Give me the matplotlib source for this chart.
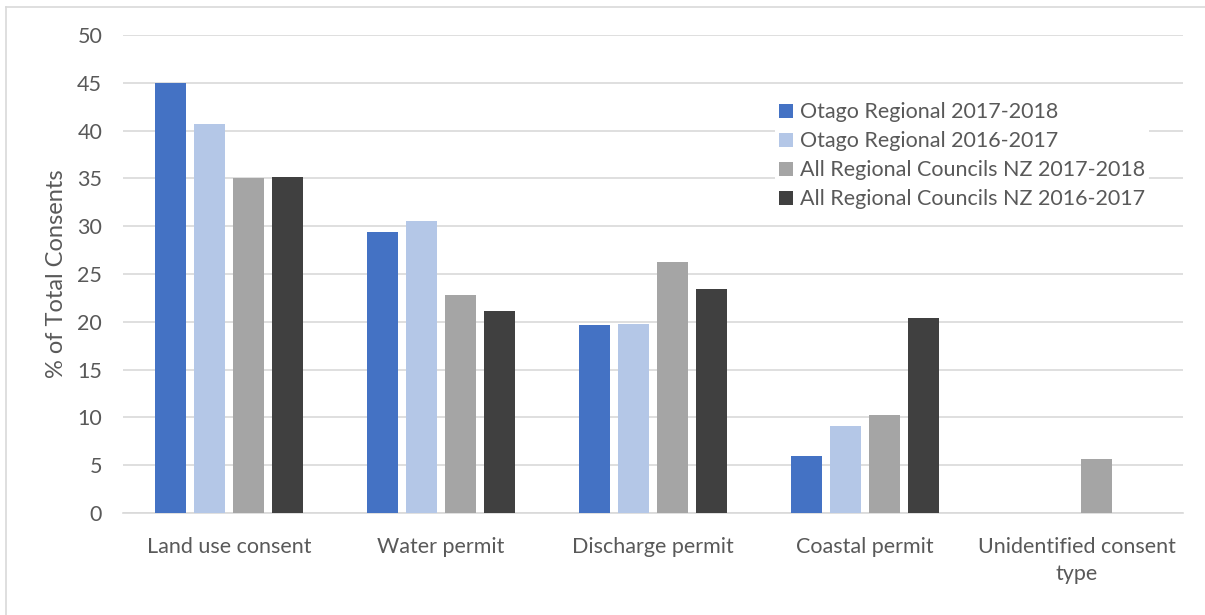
import numpy as np
import matplotlib
matplotlib.use("Agg")
import matplotlib.pyplot as plt

plt.rcParams['font.family'] = ['Lato', 'DejaVu Sans']

categories = ["Land use consent", "Water permit", "Discharge permit",
              "Coastal permit", "Unidentified consent\ntype"]
series_names = ["Otago Regional 2017-2018", "Otago Regional 2016-2017",
                "All Regional Councils NZ 2017-2018", "All Regional Councils NZ 2016-2017"]
otago_1718 = [45.0, 29.4, 19.7, 6.0, 0.0]
otago_1617 = [40.7, 30.5, 19.8, 9.1, 0.0]
all_1718 = [35.0, 22.8, 26.3, 10.3, 5.6]
all_1617 = [35.1, 21.1, 23.4, 20.4, 0.0]
series = [otago_1718, otago_1617, all_1718, all_1617]
colours = ["#4472C4", "#B4C7E7", "#A5A5A5", "#404040"]

textColour = "#595959"
gridColour = "#D9D9D9"

fig = plt.figure(figsize=(12.05, 6.15), dpi=100)
ax = fig.add_axes([123 / 1205, 1 - 513 / 615, 1060 / 1205, 478 / 615])

x = np.arange(len(categories))
step = 39 / 212
width = 31 / 212
for i, (vals, col, name) in enumerate(zip(series, colours, series_names)):
    ax.bar(x + (i - 1.5) * step, vals, width, color=col, label=name, zorder=3)

ax.set_xlim(-0.5, len(categories) - 0.5)
ax.set_ylim(0, 50)
ax.set_yticks(np.arange(0, 51, 5))
ax.set_xticks(x)
ax.set_xticklabels(categories, linespacing=1.45)
ax.tick_params(axis='both', length=0, labelsize=15.5, colors=textColour)
ax.tick_params(axis='x', pad=17)
ax.tick_params(axis='y', pad=15)
ax.yaxis.grid(True, color=gridColour, linewidth=1.2, zorder=0)
for side in ["top", "right", "left"]:
    ax.spines[side].set_visible(False)
ax.spines["bottom"].set_color(gridColour)
ax.spines["bottom"].set_linewidth(1.2)
ax.set_ylabel("% of Total Consents", fontsize=17, color=textColour, labelpad=7)

leg = ax.legend(loc="upper left", bbox_to_anchor=(775 / 1205, 1 - 98 / 615),
                bbox_transform=fig.transFigure, frameon=True, fancybox=False,
                edgecolor="none", facecolor="white", framealpha=1,
                fontsize=15.5, handlelength=0.65, handleheight=0.65,
                handletextpad=0.3, labelspacing=0.42, borderpad=0.2,
                borderaxespad=0)
for t in leg.get_texts():
    t.set_color(textColour)
leg.set_zorder(5)

# light outer frame, top and left edges
fig.add_artist(plt.Line2D([6 / 1205, 1], [1 - 7 / 615, 1 - 7 / 615],
                          transform=fig.transFigure, color=gridColour, linewidth=1.2))
fig.add_artist(plt.Line2D([6 / 1205, 6 / 1205], [0, 1 - 7 / 615],
                          transform=fig.transFigure, color=gridColour, linewidth=1.2))

fig.savefig("out.png", dpi=100, facecolor="white")
